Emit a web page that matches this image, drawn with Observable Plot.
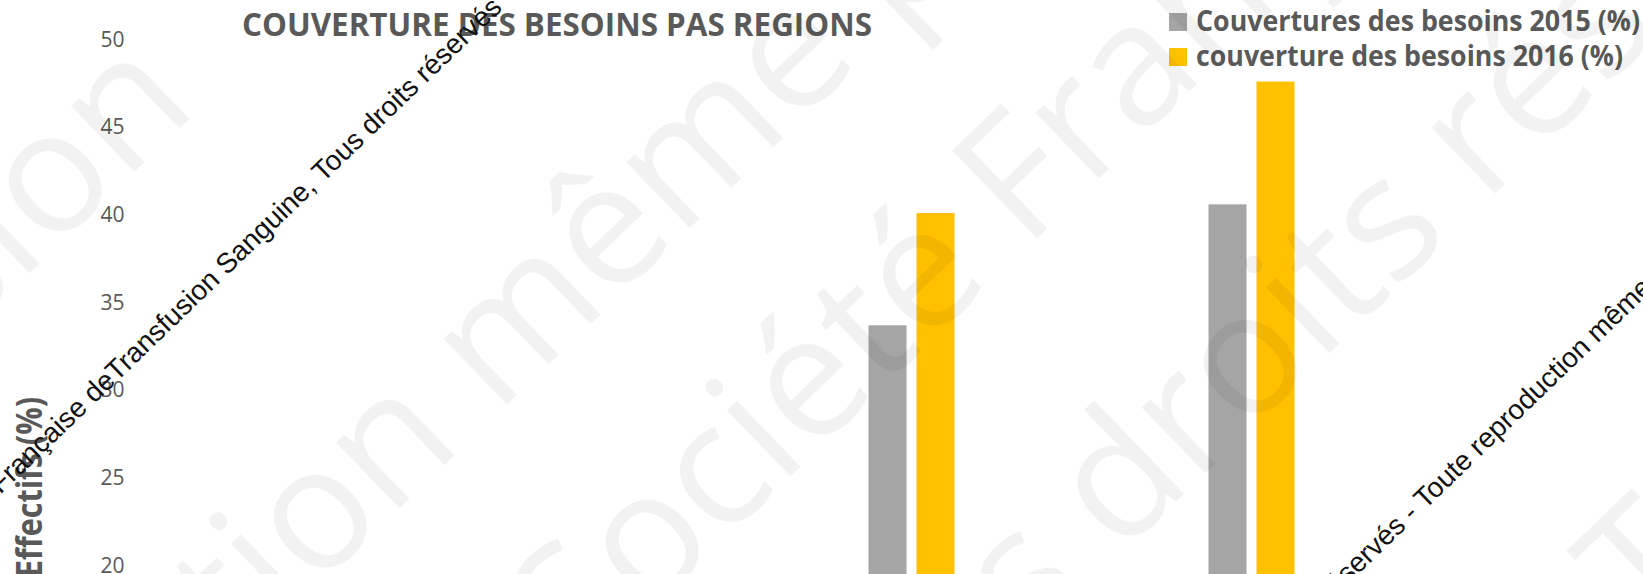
<!DOCTYPE html>
<html>
<head>
<meta charset="utf-8">
<script src="https://cdn.jsdelivr.net/npm/d3@7"></script>
<script src="https://cdn.jsdelivr.net/npm/@observablehq/plot@0.6"></script>
<style>
  body { margin: 0; background: #fff; }
  #chart svg { display: block; }
</style>
</head>
<body>
<div id="chart"></div>
<script>
// ---- data ----
const regions = ["Région 1", "Région 2"];
const seriesLabels = ["Couvertures des besoins 2015 (%)", "couverture des besoins 2016 (%)"];
const coverage2015 = [33.7, 40.6];
const coverage2016 = [40.1, 47.6];
const seriesColors = ["#A5A5A5", "#FFC000"];
const yTicks = [20, 25, 30, 35, 40, 45, 50];
const chartTitle = "COUVERTURE DES BESOINS PAS REGIONS";
const yLabel = "Effectifs (%)";

// tables built from the arrays
const rows2015 = regions.map((region, i) => ({region, series: seriesLabels[0], value: coverage2015[i]}));
const rows2016 = regions.map((region, i) => ({region, series: seriesLabels[1], value: coverage2016[i]}));

const chart = Plot.plot({
  width: 1643,
  height: 574,
  marginTop: 39.5,
  marginBottom: 8.5,
  marginLeft: 130,
  marginRight: 0,
  style: {fontFamily: "'Open Sans', sans-serif", fontSize: "21px", color: "#595959", background: "white", overflow: "hidden"},
  x: {domain: regions, paddingInner: 254 / 340, paddingOuter: 1.5985, align: 0.6794, axis: null, round: false},
  y: {domain: [20, 50], ticks: yTicks, tickSize: 0, tickPadding: 6, label: null},
  color: {domain: seriesLabels, range: seriesColors},
  marks: [
    Plot.barY(rows2015, {x: "region", y: "value", fill: "series", insetRight: 48}),
    Plot.barY(rows2016, {x: "region", y: "value", fill: "series", insetLeft: 48})
  ]
});
document.getElementById("chart").appendChild(chart);

const svg = d3.select(chart).style("overflow", "hidden");

// y-axis title
svg.append("text")
  .attr("transform", "translate(42,397) rotate(-90)")
  .attr("text-anchor", "end")
  .attr("font-family", "'Open Sans', sans-serif")
  .attr("font-weight", 700)
  .attr("font-size", 35)
  .attr("fill", "#595959")
  .attr("textLength", 180)
  .attr("lengthAdjust", "spacingAndGlyphs")
  .text(yLabel);

// chart title
svg.append("text")
  .attr("x", 557).attr("y", 36)
  .attr("text-anchor", "middle")
  .attr("font-family", "'Open Sans', sans-serif")
  .attr("font-weight", 700)
  .attr("font-size", 32)
  .attr("fill", "#595959")
  .attr("textLength", 630)
  .attr("lengthAdjust", "spacingAndGlyphs")
  .text(chartTitle);

// legend
const legendWidths = [444, 427];
seriesLabels.forEach((lab, i) => {
  svg.append("rect")
    .attr("x", 1169).attr("y", 13 + 35 * i)
    .attr("width", 18).attr("height", 18)
    .attr("fill", seriesColors[i]);
  svg.append("text")
    .attr("x", 1196).attr("y", 31 + 35 * i)
    .attr("text-anchor", "start")
    .attr("font-family", "'Open Sans', sans-serif")
    .attr("font-weight", 700)
    .attr("font-size", 28)
    .attr("fill", "#595959")
    .attr("textLength", legendWidths[i])
    .attr("lengthAdjust", "spacingAndGlyphs")
    .text(lab);
});

// large pale watermark
const wm = svg.append("g")
  .attr("font-family", "'Open Sans', sans-serif")
  .attr("font-size", 171)
  .attr("fill", "#000")
  .attr("fill-opacity", 0.05)
  .style("white-space", "pre");
const wmLines = [
  [124, 182, "de Transfusio", "n"],
  [315, 590, "Toute reproducti", "on même partielle"],
  [1025, 250, "Société ", "Française de"],
  [1245, 435, "Tous dr", "oits réservés"],
  [1650, 640, "réservés - ", "Toute"]
];
wmLines.forEach(([x, y, pre, post]) => {
  const g = wm.append("g").attr("transform", `translate(${x},${y}) rotate(-44)`);
  g.append("text").attr("text-anchor", "end").text(pre);
  g.append("text").attr("text-anchor", "start").text(post);
});

// black diagonal notice
const nt = svg.append("g")
  .attr("font-family", "'Liberation Sans', Arial, sans-serif")
  .attr("font-size", 28)
  .attr("fill", "#111")
  .style("white-space", "pre");
const ntLines = [
  [323, 183, "Société Française deTransfusion Sanguine, ", "Tous droits réservés - Toute reproduction même partielle interdite"],
  [1425, 510, "Société Française de Transfusion Sanguine, Tous droits réservés - ", "Toute reproduction même partielle interdite"]
];
ntLines.forEach(([x, y, pre, post]) => {
  const g = nt.append("g").attr("transform", `translate(${x},${y}) rotate(-44)`);
  g.append("text").attr("text-anchor", "end").text(pre);
  g.append("text").attr("text-anchor", "start").text(post);
});
</script>
</body>
</html>
